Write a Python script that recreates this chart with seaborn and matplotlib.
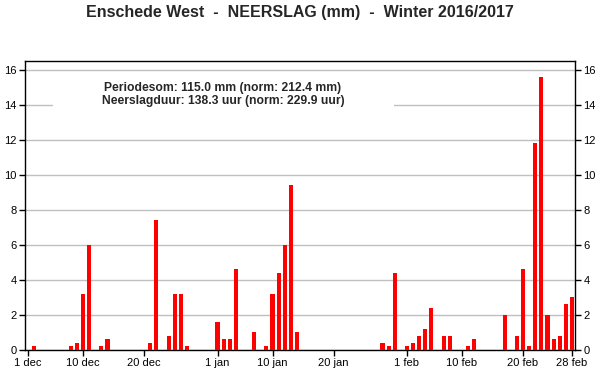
import pandas as pd
import matplotlib.pyplot as plt
import matplotlib.patches as mpatches
import seaborn as sns

# dagen met neerslag (winter 2016/2017) en hoeveelheid in mm
regen_datum = ['2016-12-02', '2016-12-08', '2016-12-09', '2016-12-10', '2016-12-11',
               '2016-12-13', '2016-12-14', '2016-12-21', '2016-12-22', '2016-12-24',
               '2016-12-25', '2016-12-26', '2016-12-27',
               '2017-01-01', '2017-01-02', '2017-01-03', '2017-01-04', '2017-01-07',
               '2017-01-09', '2017-01-10', '2017-01-11', '2017-01-12', '2017-01-13',
               '2017-01-14', '2017-01-28', '2017-01-29', '2017-01-30',
               '2017-02-01', '2017-02-02', '2017-02-03', '2017-02-04', '2017-02-05',
               '2017-02-07', '2017-02-08', '2017-02-11', '2017-02-12', '2017-02-17',
               '2017-02-19', '2017-02-20', '2017-02-21', '2017-02-22', '2017-02-23',
               '2017-02-24', '2017-02-25', '2017-02-26', '2017-02-27', '2017-02-28']
regen_mm = [0.2, 0.2, 0.4, 3.2, 6.0,
            0.2, 0.6, 0.4, 7.4, 0.8,
            3.2, 3.2, 0.2,
            1.6, 0.6, 0.6, 4.6, 1.0,
            0.2, 3.2, 4.4, 6.0, 9.4,
            1.0, 0.4, 0.2, 4.4,
            0.2, 0.4, 0.8, 1.2, 2.4,
            0.8, 0.8, 0.2, 0.6, 2.0,
            0.8, 4.6, 0.2, 11.8, 15.6,
            2.0, 0.6, 0.8, 2.6, 3.0]

tick_labels = ['1 dec', '10 dec', '20 dec', '1 jan', '10 jan', '20 jan',
               '1 feb', '10 feb', '20 feb', '28 feb']
tick_datum = ['2016-12-01', '2016-12-10', '2016-12-20', '2017-01-01', '2017-01-10',
              '2017-01-20', '2017-02-01', '2017-02-10', '2017-02-20', '2017-02-28']

titel = 'Enschede West  -  NEERSLAG (mm)  -  Winter 2016/2017'
info = 'Periodesom: 115.0 mm (norm: 212.4 mm)\nNeerslagduur: 138.3 uur (norm: 229.9 uur)'

# volledige reeks dagen opbouwen, dagen zonder regen = 0
dagen = pd.date_range('2016-12-01', '2017-02-28', freq='D')
s = pd.Series(regen_mm, index=pd.to_datetime(regen_datum)).reindex(dagen, fill_value=0.0)
df = pd.DataFrame({'dag': range(len(dagen)), 'mm': s.values})
tick_pos = [dagen.get_loc(pd.Timestamp(d)) for d in tick_datum]

sns.set_theme(style="ticks")
plt.rcParams['font.family'] = ['Liberation Sans', 'DejaVu Sans']

fig = plt.figure(figsize=(6, 3.9), dpi=100)
ax = fig.add_axes([25 / 600, 1 - 350 / 390, 550 / 600, 289 / 390])

sns.barplot(data=df, x='dag', y='mm', color='#ff0000', saturation=1,
            width=0.68, errorbar=None, ax=ax, zorder=3,
            linewidth=0, edgecolor='#ff0000')

ax.set_xlim(-0.5, len(dagen) - 0.5)
ax.set_ylim(0, 16.5)
ax.set_yticks(range(0, 17, 2))
ax.set_xticks(tick_pos)
ax.set_xticklabels(tick_labels)
ax.set_xlabel('')
ax.set_ylabel('')

ax.set_axisbelow(True)
ax.yaxis.grid(True, color='#c0c0c0', linewidth=1)
ax.xaxis.grid(False)

for sp in ax.spines.values():
    sp.set_visible(True)
    sp.set_color('black')
    sp.set_linewidth(1)

ax.tick_params(axis='both', direction='out', length=4, width=1, color='black',
               labelsize=8, labelcolor='black', pad=2)
ax.tick_params(axis='y', right=True, labelright=True)

# wit vlak achter de tekst
ax.add_patch(mpatches.Rectangle((28 / 550, 238 / 289), 341 / 550, 36 / 289,
                                transform=ax.transAxes, facecolor='white',
                                edgecolor='none', zorder=1))
ax.text(0.36, 0.884, info, transform=ax.transAxes, ha='center', va='center',
        fontsize=8.7, fontweight='bold', linespacing=1.1, zorder=4)

fig.text(0.5, 1 - 12 / 390, titel, ha='center', va='center',
         fontsize=11.5, fontweight='bold')

fig.savefig('out.png', dpi=100)
